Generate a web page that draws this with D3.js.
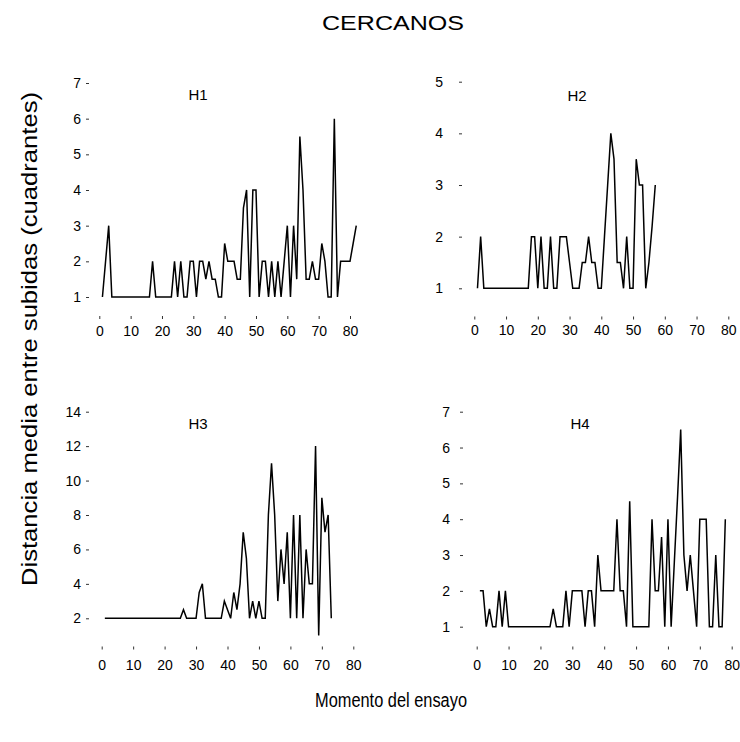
<!DOCTYPE html>
<html>
<head>
<meta charset="utf-8">
<script src="https://cdn.jsdelivr.net/npm/d3@7/dist/d3.min.js"></script>
<style>
  html, body { margin: 0; padding: 0; background: #fff; }
  svg { display: block; font-family: "Liberation Sans", Arial, sans-serif; }
</style>
</head>
<body>
<svg id="chart" width="740" height="742"></svg>
<script>
// Mean distance between climbs (in quadrants) for each trial moment, one series per subject
const h1Values = [1,2,3,1,1,1,1,1,1,1, 1,1,1,1,1,1,2,1,1,1, 1,1,1,2,1,2,1,1,2,2,
  1,2,2,1.5,2,1.5,1.5,1,1,2.5, 2,2,2,1.5,1.5,3.5,4,1,4,4, 1,2,2,1,2,1,2,1,2,3,
  1,3,1.5,5.5,4,1.5,1.5,2,1.5,1.5, 2.5,2,1,1,6,1,2,2,2,2, 2.5,3];
const h2Values = [1,2,1,1,1,1,1,1,1,1, 1,1,1,1,1,1,1,2,2,1, 2,1,1,2,1,1,2,2,2,1.5,
  1,1,1,1.5,1.5,2,1.5,1.5,1,1, 2,3,4,3.5,1.5,1.5,1,2,1,1, 3.5,3,3,1,1.5,2.2,3];
const h3Values = [2,2,2,2,2,2,2,2,2,2, 2,2,2,2,2,2,2,2,2,2, 2,2,2,2,2,2.5,2,2,2,2,
  3.5,4,2,2,2,2,2,2,3,2.5, 2,3.5,2.5,4,7,5.5,2,3,2,3, 2,2,8,11,8,3,6,4,7,2,
  8,2,8,2,6,4,4,12,1,9, 7,8,2];
const h4Values = [2,2,1,1.5,1,1,2,1,2,1, 1,1,1,1,1,1,1,1,1,1, 1,1,1,1.5,1,1,1,2,1,2,
  2,2,2,1,2,2,1,3,2,2, 2,2,2,4,2,2,1,4.5,1,1, 1,1,1,1,4,2,2,3.5,1,4,
  1,2.8,4.6,6.5,3,2,3,2,1,4, 4,4,1,1,3,1,1,4];

// Axis ticks
const xTicks = [0,10,20,30,40,50,60,70,80];
const h1YTicks = [1,2,3,4,5,6,7];
const h2YTicks = [1,2,3,4,5];
const h3YTicks = [2,4,6,8,10,12,14];
const h4YTicks = [1,2,3,4,5,6,7];

const titleText = "CERCANOS";
const xLabel = "Momento del ensayo";
const yLabel = "Distancia media entre subidas (cuadrantes)";

// Panel geometry: pixel ranges for each small multiple
const panels = [
  { name: "H1", values: h1Values, yTicks: h1YTicks,
    x0: 99.3, x1: 350, yLo: 297, yHi: 83, xAxisY: 316, yAxisX: 89, yPad: 5, xPad: 7,
    titleX: 198, titleY: 100 },
  { name: "H2", values: h2Values, yTicks: h2YTicks,
    x0: 474.3, x1: 728.3, yLo: 288.3, yHi: 81.7, xAxisY: 316.5, yAxisX: 462, yPad: 16, xPad: 5.5,
    titleX: 577, titleY: 101 },
  { name: "H3", values: h3Values, yTicks: h3YTicks,
    x0: 101.7, x1: 353.3, yLo: 618.3, yHi: 411.7, xAxisY: 646.5, yAxisX: 89, yPad: 5, xPad: 11,
    titleX: 198, titleY: 429 },
  { name: "H4", values: h4Values, yTicks: h4YTicks,
    x0: 476.7, x1: 731.7, yLo: 626.7, yHi: 411.7, xAxisY: 646.5, yAxisX: 463, yPad: 10, xPad: 11,
    titleX: 580, titleY: 429 }
];

const svg = d3.select("#chart");

svg.append("text")
  .attr("x", 393).attr("y", 30)
  .attr("text-anchor", "middle")
  .attr("font-size", 20)
  .attr("textLength", 142)
  .attr("lengthAdjust", "spacingAndGlyphs")
  .attr("fill", "#000")
  .text(titleText);

svg.append("text")
  .attr("x", 391).attr("y", 707)
  .attr("text-anchor", "middle")
  .attr("font-size", 20)
  .attr("textLength", 152)
  .attr("lengthAdjust", "spacingAndGlyphs")
  .attr("fill", "#000")
  .text(xLabel);

svg.append("text")
  .attr("transform", "translate(37,339) rotate(-90)")
  .attr("text-anchor", "middle")
  .attr("font-size", 22)
  .attr("textLength", 494)
  .attr("lengthAdjust", "spacingAndGlyphs")
  .attr("fill", "#000")
  .text(yLabel);

panels.forEach(p => {
  const yMin = d3.min(p.yTicks), yMax = d3.max(p.yTicks);
  const x = d3.scaleLinear().domain([0, 80]).range([p.x0, p.x1]);
  const y = d3.scaleLinear().domain([yMin, yMax]).range([p.yLo, p.yHi]);
  const g = svg.append("g");

  // y axis: tick dashes only, no spine
  const ya = g.append("g")
    .attr("transform", `translate(${p.yAxisX},0)`)
    .call(d3.axisLeft(y).tickValues(p.yTicks).tickSize(3).tickPadding(p.yPad).tickFormat(d3.format("d")));
  ya.select(".domain").remove();

  // x axis: tick dashes only, no spine
  const xa = g.append("g")
    .attr("transform", `translate(0,${p.xAxisY})`)
    .call(d3.axisBottom(x).tickValues(xTicks).tickSize(3).tickPadding(p.xPad).tickFormat(d3.format("d")));
  xa.select(".domain").remove();

  [ya, xa].forEach(a => {
    a.selectAll("text").attr("font-size", 14).attr("fill", "#000")
      .attr("font-family", "'Liberation Sans', Arial, sans-serif");
    a.selectAll("line").attr("stroke", "#333").attr("stroke-width", 1);
  });

  g.append("text")
    .attr("x", p.titleX).attr("y", p.titleY)
    .attr("text-anchor", "middle")
    .attr("font-size", 15)
    .attr("fill", "#000")
    .text(p.name);

  const line = d3.line()
    .x((d, i) => x(i + 1))
    .y(d => y(d));

  g.append("path")
    .datum(p.values)
    .attr("d", line)
    .attr("fill", "none")
    .attr("stroke", "#000")
    .attr("stroke-width", 1.5)
    .attr("stroke-linejoin", "miter");
});
</script>
</body>
</html>
